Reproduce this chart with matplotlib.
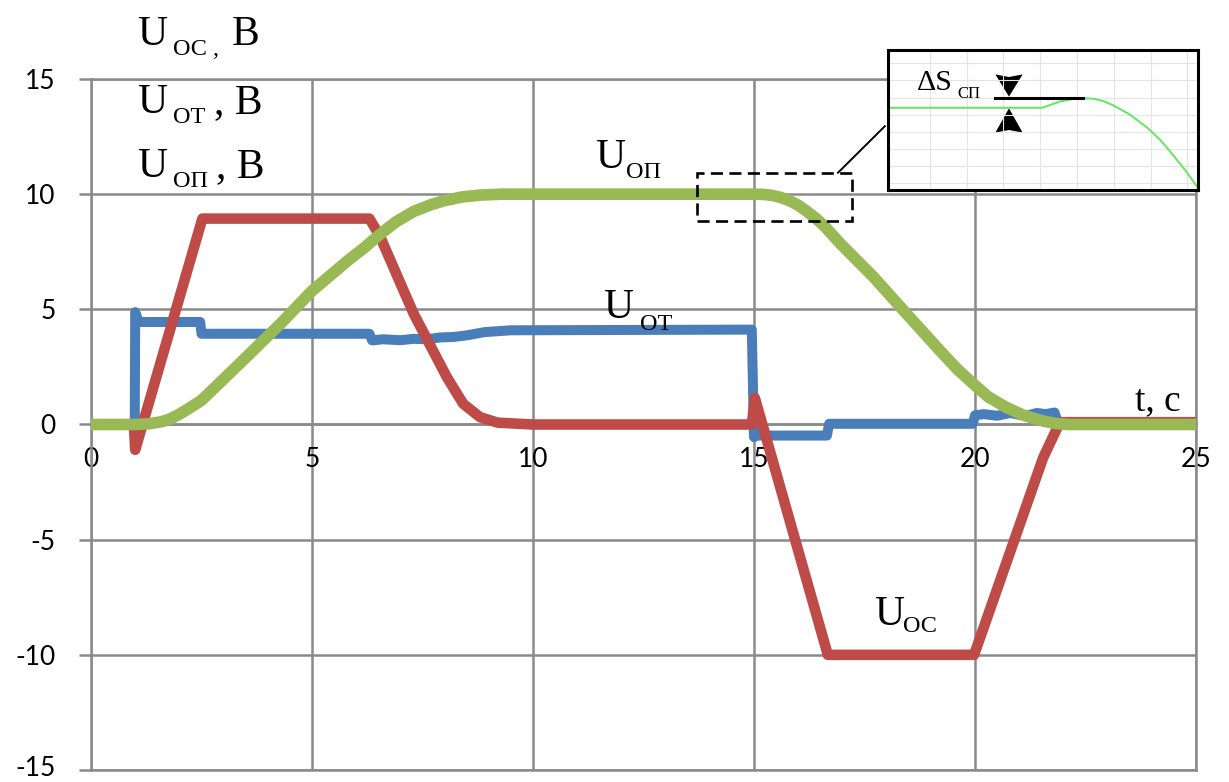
import matplotlib.pyplot as plt
from matplotlib.patches import Rectangle
from matplotlib.transforms import offset_copy

plt.rcParams['font.family'] = ['Lato', 'DejaVu Sans']
plt.rcParams['axes.unicode_minus'] = False

W, H = 1229, 782
SERIF = 'Liberation Serif'
GRID = '#8a8a8a'

# U_OP - position reference signal, V
t_op = [0, 1.0, 1.3, 1.6, 1.8, 2.0, 2.2, 2.5, 2.8, 3.5, 4.3, 5.0, 5.8, 6.2, 6.5,
        6.9, 7.3, 7.7, 8.0, 8.4, 8.8, 9.3, 15.0, 15.2, 15.4, 15.6, 15.8, 16.0,
        16.2, 16.4, 16.6, 16.95, 17.7, 18.45, 19.2, 19.6, 19.96, 20.3, 20.7, 21.1,
        21.5, 21.8, 22.1, 25]
u_op = [0, 0, 0.03, 0.12, 0.25, 0.45, 0.68, 1.05, 1.6, 2.9, 4.4, 5.8, 7.1, 7.7, 8.2,
        8.8, 9.25, 9.55, 9.72, 9.88, 9.96, 10, 10, 9.99, 9.95, 9.86, 9.72, 9.52,
        9.25, 8.95, 8.6, 7.86, 6.41, 4.81, 3.22, 2.4, 1.77, 1.2, 0.75, 0.4,
        0.17, 0.05, 0, 0]

# U_OC - speed signal, V
t_oc = [0, 0.97, 1.0, 2.52, 6.3, 6.54, 7.3, 8.05, 8.42, 8.8, 9.2, 10, 14.95, 15.02,
        16.67, 19.98, 21.54, 21.92, 25]
u_oc = [0, 0, -1.1, 8.94, 8.94, 8.16, 4.81, 2.06, 0.9, 0.32, 0.08, 0, 0, 1.15,
        -10, -10, -1.45, 0.1, 0.1]

# U_OT - current signal, V
t_ot = [0, 0.99, 1.0, 1.08, 2.47, 2.5, 6.3, 6.36, 6.6, 7.0, 7.3, 7.6, 7.9, 8.2, 8.5,
        8.9, 9.5, 14.95, 15.0, 15.05, 16.65, 16.7, 19.95, 20.0, 20.2, 20.5, 20.8,
        21.0, 21.2, 21.4, 21.6, 21.8, 21.88, 22.0, 25]
u_ot = [0, 0, 4.88, 4.45, 4.45, 3.94, 3.94, 3.65, 3.7, 3.66, 3.72, 3.7, 3.78, 3.8, 3.87,
        4.01, 4.09, 4.12, -0.55, -0.48, -0.48, 0.03, 0.03, 0.4, 0.45, 0.38, 0.5,
        0.42, 0.4, 0.5, 0.45, 0.52, 0.05, 0, 0]

x_ticks = [0, 5, 10, 15, 20, 25]
y_ticks = [-15, -10, -5, 0, 5, 10, 15]

# magnified end of the U_OP plateau (inset units)
zoom_x = [-0.14, 4.05, 4.54, 4.9, 5.16, 5.45, 5.7, 5.98, 6.44, 6.9, 7.25, 7.53,
          7.94, 8.29]
zoom_y = [5.40, 5.40, 5.77, 5.92, 5.96, 5.93, 5.80, 5.55, 5.00, 4.25, 3.55, 2.85,
          1.76, 0.71]


def px(x, y):
    return x / W, 1 - y / H


fig = plt.figure(figsize=(W / 100, H / 100), dpi=100)
ax = fig.add_axes([91 / W, 1 - 770 / H, (1196 - 91) / W, (770 - 79) / H])

ax.plot(t_ot, u_ot, color='#4a7ebb', lw=7.2, zorder=3,
        solid_capstyle='round', solid_joinstyle='round')
ax.plot(t_oc, u_oc, color='#be4b48', lw=7.6, zorder=4,
        solid_capstyle='round', solid_joinstyle='round')
ax.plot(t_op, u_op, color='#98b954', lw=8.4, zorder=5,
        solid_capstyle='round', solid_joinstyle='round')

ax.set_xlim(0, 25)
ax.set_ylim(-15, 15)
ax.set_xticks(x_ticks)
ax.set_xticklabels([str(v) for v in x_ticks])
ax.set_yticks(y_ticks)
ax.set_yticklabels([str(v) for v in y_ticks])
ax.grid(True, color=GRID, lw=1.8)
ax.set_axisbelow(True)
for s in ax.spines.values():
    s.set_color(GRID)
    s.set_linewidth(1.8)
ax.spines['bottom'].set_position(('data', 0))
ax.axhline(-15, color=GRID, lw=1.8, clip_on=False, zorder=1)
ax.tick_params(axis='y', direction='out', length=8.6, width=1.8, color=GRID,
               pad=17, labelsize=19)
ax.tick_params(axis='x', length=0, pad=16, labelsize=19)

# keep the lowest y label inside the canvas
low = ax.get_yticklabels()[0]
low.set_transform(offset_copy(low.get_transform(), fig=fig, y=3, units='points'))

# dashed frame around the end of the plateau and its callout
ax.add_patch(Rectangle((13.70, 8.83), 3.52, 2.10, fill=False, ec='k', lw=1.9,
                       ls=(0, (4.6, 2.4)), zorder=6))
ax.plot([16.9, 17.96], [10.93, 12.95], color='k', lw=1.4, zorder=6)


def sub_label(x, y, main, sub, xs, ys, size=30, subsize=17.5):
    fig.text(*px(x, y), main, family=SERIF, fontsize=size, va='baseline')
    fig.text(*px(xs, ys), sub, family=SERIF, fontsize=subsize, va='baseline')


# axis caption block
sub_label(137, 45, 'U', 'ОС ,', 173, 55)
fig.text(*px(232, 45), 'В', family=SERIF, fontsize=30, va='baseline')
sub_label(137, 113, 'U', 'ОТ', 173, 123)
fig.text(*px(214, 113), ', В', family=SERIF, fontsize=30, va='baseline')
sub_label(137, 177, 'U', 'ОП', 173, 187)
fig.text(*px(216, 177), ', В', family=SERIF, fontsize=30, va='baseline')

# curve labels
sub_label(595, 168, 'U', 'ОП', 626, 178)
sub_label(603, 318, 'U', 'ОТ', 640, 330)
sub_label(874, 625, 'U', 'ОС', 903, 632)
fig.text(*px(1135, 410), 't, с', family=SERIF, fontsize=27, va='baseline')

# inset
axi = fig.add_axes([888 / W, 1 - 190 / H, 310 / W, 140 / H])
axi.set_xlim(-0.14, 8.29)
axi.set_ylim(0.59, 8.78)
axi.set_xticks(range(1, 9))
axi.set_yticks(range(1, 9))
axi.grid(True, color='#e4e4e4', lw=0.8)
axi.tick_params(length=0, labelbottom=False, labelleft=False)
for s in axi.spines.values():
    s.set_color('k')
    s.set_linewidth(2.2)
axi.plot(zoom_x, zoom_y, color='#5fe85f', lw=1.4)
axi.plot([2.77, 5.16], [5.97, 5.97], color='k', lw=2.2)
axi.fill([3.15, 2.78, 3.15, 3.52], [6.05, 7.35, 7.2, 7.35], color='k', lw=0)
axi.fill([3.15, 2.78, 3.15, 3.52], [5.37, 3.95, 4.1, 3.95], color='k', lw=0)
fig.text(*px(917, 90), 'ΔS', family=SERIF, fontsize=21.5, va='baseline')
fig.text(*px(957, 98), 'СП', family=SERIF, fontsize=12, va='baseline')

fig.savefig('out.png', dpi=100)
